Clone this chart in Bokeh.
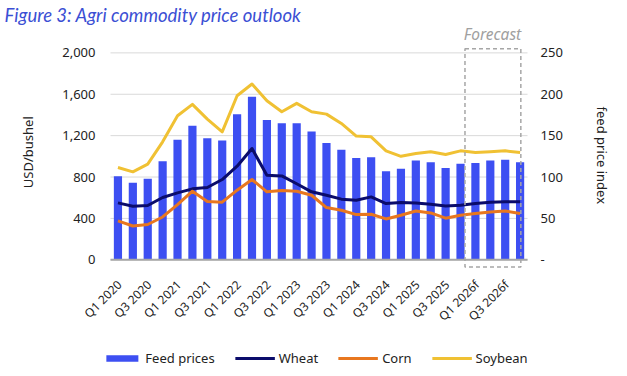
from math import pi
from bokeh.plotting import figure
from bokeh.models import (Range1d, LinearAxis, FixedTicker, NumeralTickFormatter,
                          Legend, LegendItem, Label, ColumnDataSource)
from bokeh.transform import dodge
from bokeh.core.properties import value
from bokeh.embed import file_html
from bokeh.resources import INLINE

quarters = ["Q1 2020", "Q2 2020", "Q3 2020", "Q4 2020",
            "Q1 2021", "Q2 2021", "Q3 2021", "Q4 2021",
            "Q1 2022", "Q2 2022", "Q3 2022", "Q4 2022",
            "Q1 2023", "Q2 2023", "Q3 2023", "Q4 2023",
            "Q1 2024", "Q2 2024", "Q3 2024", "Q4 2024",
            "Q1 2025", "Q2 2025", "Q3 2025", "Q4 2025",
            "Q1 2026f", "Q2 2026f", "Q3 2026f", "Q4 2026f"]

feed_index = [101, 93, 98, 119, 145, 162, 147, 144, 176, 197, 169, 165, 165, 155,
              141, 133, 123, 124, 107, 110, 120, 118, 111, 116, 117, 120, 121, 118]
wheat = [550, 518, 525, 602, 647, 686, 699, 776, 905, 1076, 818, 811, 735, 657,
         624, 586, 576, 608, 544, 553, 550, 537, 521, 528, 544, 557, 560, 560]
corn = [376, 327, 341, 414, 534, 663, 563, 557, 673, 776, 657, 670, 663, 624,
        505, 479, 437, 440, 395, 431, 472, 453, 402, 431, 447, 463, 472, 447]
soybean = [892, 850, 924, 1140, 1392, 1502, 1360, 1237, 1586, 1699, 1537, 1431, 1512, 1431,
           1408, 1318, 1196, 1189, 1053, 1000, 1027, 1044, 1018, 1053, 1037, 1044, 1053, 1037]

left_ticks = [0, 400, 800, 1200, 1600, 2000]
right_ticks = [0, 50, 100, 150, 200, 250]

x = list(range(len(quarters)))
src = ColumnDataSource(dict(x=x, feed=feed_index, wheat=wheat, corn=corn, soy=soybean))
tick_src = ColumnDataSource(dict(x=x[::2], label=quarters[::2]))

FONT = "Noto Sans"
Y_TOP = 2255
Y_BOT = -1128
RATIO = 8           # left axis units per right-axis unit
X_LO, X_HI = -0.5, len(quarters) - 0.5   # extent of the plotted categories

p = figure(width=627, height=376, output_backend="svg", toolbar_location=None,
           x_axis_type=None,
           x_range=Range1d(-7.08, 33.54), y_range=Range1d(Y_BOT, Y_TOP),
           min_border_left=12, min_border_right=10, min_border_top=26, min_border_bottom=0,
           title="Figure 3: Agri commodity price outlook")
p.outline_line_color = None
p.background_fill_color = "white"
p.border_fill_color = "white"

p.title.text_font = "Lato"
p.title.text_font_style = "italic"
p.title.text_font_size = "18.5px"
p.title.text_color = "#3b4fd4"
p.title.align = "left"
p.title.offset = -8
p.title.standoff = 1

p.extra_y_ranges = {"idx": Range1d(Y_BOT / RATIO, Y_TOP / RATIO)}

# grid lines limited to the category extent
p.xgrid.visible = False
p.ygrid.visible = False
p.segment(x0=X_LO, x1=X_HI, y0=left_ticks, y1=left_ticks, line_color="#d9d9d9", line_width=1)

# bars
bars = p.vbar(x="x", top="feed", width=0.55, bottom=0, source=src, y_range_name="idx",
              fill_color="#3d4ff2", line_color=None)
p.segment(x0=X_LO, x1=X_HI, y0=0, y1=0, line_color="#a6a6a6", line_width=2)

lw = p.line("x", "wheat", source=src, line_color="#0b0c6b", line_width=3, line_join="round")
lc = p.line("x", "corn", source=src, line_color="#e8771f", line_width=3, line_join="round")
ls = p.line("x", "soy", source=src, line_color="#f0c133", line_width=3, line_join="round")

# forecast box
p.quad(left=[23.3], right=[27.05], bottom=[-70], top=[2040], fill_color=None,
       line_color="#a6a6a6", line_dash="4 3", line_width=1.5)
p.add_layout(Label(x=25.15, y=2182, text="Forecast", text_align="center", text_baseline="middle",
                   text_font=FONT, text_font_style="italic", text_font_size="15.5px",
                   text_color="#a0a0a0"))

# category tick labels (every second quarter), rotated 45 degrees below the zero line
p.text(x=dodge("x", 0.1), y=-218, text="label", source=tick_src, angle=pi / 4,
       text_align="right", text_baseline="middle", text_font=value(FONT),
       text_font_size="12px", text_color="#222222")

# left axis, pinned at the left edge of the categories
ya = p.yaxis[0]
ya.fixed_location = X_LO
ya.ticker = FixedTicker(ticks=left_ticks)
ya.formatter = NumeralTickFormatter(format="0,0")
ya.axis_line_color = None
ya.major_tick_line_color = None
ya.minor_tick_line_color = None
ya.major_tick_out = 0
ya.major_tick_in = 0
ya.major_label_standoff = 15
ya.major_label_text_font = FONT
ya.major_label_text_font_size = "13px"
ya.major_label_text_color = "#222222"

# right axis, pinned at the right edge of the categories
ra = LinearAxis(y_range_name="idx", ticker=FixedTicker(ticks=right_ticks), fixed_location=X_HI)
ra.major_label_overrides = {0: "-"}
ra.axis_line_color = None
ra.major_tick_line_color = None
ra.minor_tick_line_color = None
ra.major_tick_out = 0
ra.major_tick_in = 0
ra.major_label_standoff = 13
ra.major_label_text_font = FONT
ra.major_label_text_font_size = "13px"
ra.major_label_text_color = "#222222"
p.add_layout(ra, "right")

# axis titles
p.add_layout(Label(x=-6.07, y=1040, text="USD/bushel", angle=pi / 2, text_align="center",
                   text_baseline="middle", text_font=FONT, text_font_size="13px",
                   text_color="#222222"))
p.add_layout(Label(x=32.47, y=1010, text="feed price index", angle=-pi / 2, text_align="center",
                   text_baseline="middle", text_font=FONT, text_font_size="13px",
                   text_color="#222222"))

legend = Legend(items=[LegendItem(label="Feed prices", renderers=[bars]),
                       LegendItem(label="Wheat", renderers=[lw]),
                       LegendItem(label="Corn", renderers=[lc]),
                       LegendItem(label="Soybean", renderers=[ls])],
                orientation="horizontal", location="bottom_center",
                glyph_width=40, glyph_height=8, label_standoff=4, spacing=20,
                padding=4, margin=9, border_line_color=None, background_fill_alpha=0,
                label_text_font=FONT, label_text_font_size="13px", label_text_color="#222222")
p.add_layout(legend)

open("out.html", "w").write(file_html(p, INLINE))
